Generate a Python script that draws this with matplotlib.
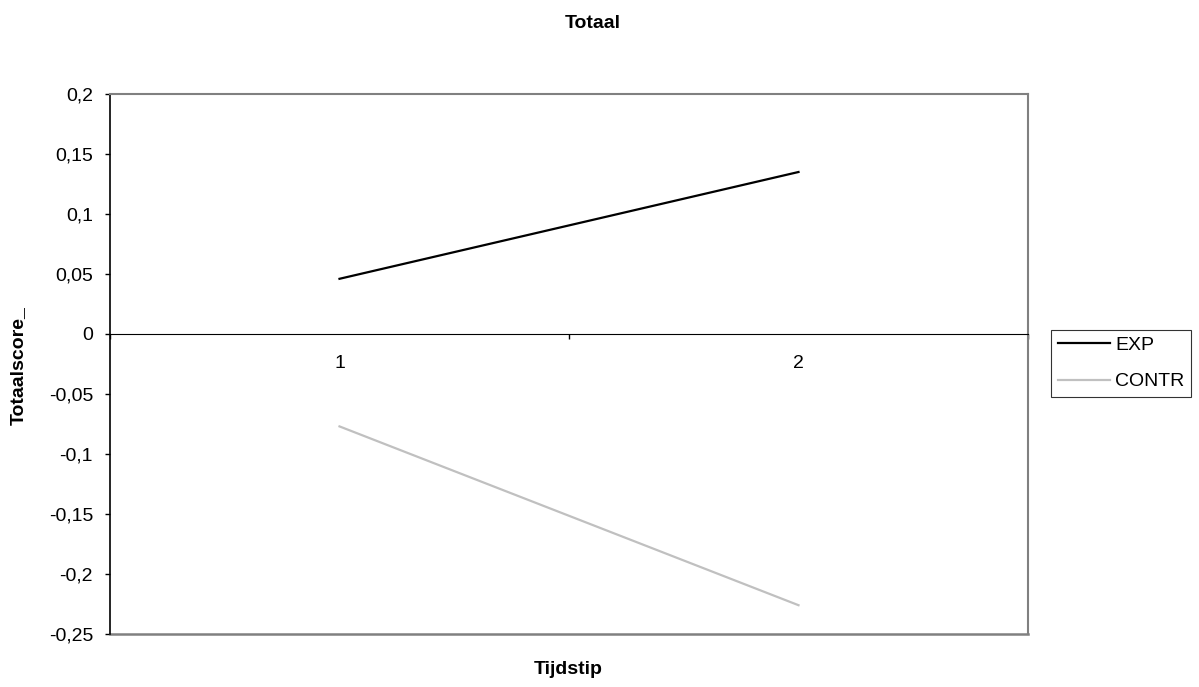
import matplotlib
matplotlib.use('Agg')
import matplotlib.pyplot as plt
from matplotlib.ticker import FuncFormatter, FixedLocator

plt.rcParams['font.family'] = ['Liberation Sans', 'DejaVu Sans']

# Data
categories = [1, 2]
exp_values = [0.046, 0.135]
contr_values = [-0.077, -0.226]
series_names = ['EXP', 'CONTR']

W, H = 1199, 687
fig = plt.figure(figsize=(W / 100, H / 100), dpi=100)
ax = fig.add_axes([110 / W, (H - 634) / H, 918 / W, 540 / H])

ax.plot(categories, exp_values, color='black', lw=1.6, label=series_names[0])
ax.plot(categories, contr_values, color='#c0c0c0', lw=1.6, label=series_names[1])

ax.set_xlim(0.5, 2.5)
ax.set_ylim(-0.25, 0.2)

# y axis, comma decimals
ax.set_yticks([0.2, 0.15, 0.1, 0.05, 0, -0.05, -0.1, -0.15, -0.2, -0.25])
ax.yaxis.set_major_formatter(FuncFormatter(lambda v, p: f'{v:g}'.replace('.', ',')))
ax.tick_params(axis='y', direction='out', length=3.6, width=1, pad=8.6,
               labelsize=14, color='black')

# x axis sits at y = 0
ax.spines['bottom'].set_position(('data', 0))
ax.spines['bottom'].set_color('black')
ax.spines['left'].set_color('black')
ax.spines['left'].set_linewidth(1.2)
for s in ('top', 'right'):
    ax.spines[s].set_color('#808080')
    ax.spines[s].set_linewidth(1.5)
ax.axhline(-0.25, color='#808080', lw=1.8, clip_on=False)

ax.xaxis.set_major_locator(FixedLocator([0.5, 1.5, 2.5]))
ax.xaxis.set_minor_locator(FixedLocator(categories))
ax.xaxis.set_major_formatter(FuncFormatter(lambda v, p: ''))
ax.xaxis.set_minor_formatter(FuncFormatter(lambda v, p: f'{v:g}'))
ax.tick_params(axis='x', which='major', direction='out', length=3.6, width=1)
ax.tick_params(axis='x', which='minor', length=0, pad=15, labelsize=14)

fig.text(593 / W, 1 - 23 / H, 'Totaal', ha='center', va='center',
         fontsize=14, fontweight='bold')
fig.text(568 / W, 1 - 669 / H, 'Tijdstip', ha='center', va='center',
         fontsize=14, fontweight='bold')
fig.text(18 / W, 1 - 366 / H, 'Totaalscore_', ha='center', va='center',
         rotation=90, fontsize=14, fontweight='bold')

leg = ax.legend(loc='center left', bbox_to_anchor=(1051 / W, 1 - 363.5 / H),
                bbox_transform=fig.transFigure, frameon=True, fancybox=False,
                fontsize=14, handlelength=2.7, handletextpad=0.25,
                borderpad=0.35, labelspacing=0.95, borderaxespad=0)
leg.get_frame().set_edgecolor('black')
leg.get_frame().set_linewidth(0.8)

fig.savefig('out.png', dpi=100)
